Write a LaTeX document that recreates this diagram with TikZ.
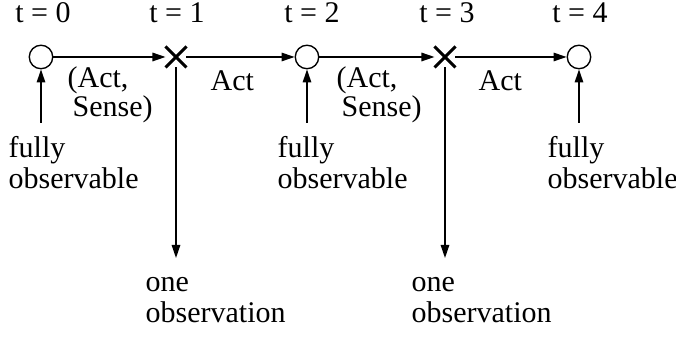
\documentclass[tikz,border=0pt]{standalone}
\usepackage{fontspec}
\setmainfont{Liberation Serif}
\usepackage{tikz}
\usetikzlibrary{arrows.meta,shapes.misc}

\begin{document}
\begin{tikzpicture}[x=0.4pt,y=-0.4pt,>={Triangle[length=5.2pt,width=3.4pt]},line width=0.55pt,
  font=\fontsize{12}{12.6}\selectfont,
  state/.style={circle,draw,inner sep=0pt,minimum size=9.4pt},
  sensed/.style={cross out,draw,line width=1.2pt,inner sep=0pt,minimum size=7.2pt},
  lbl/.style={inner sep=0pt,align=left,anchor=base west}]
\useasboundingbox (0,0) rectangle (676,337);
\node[state] (s0) at (41,57) {};
\node[sensed] (x1) at (176,57) {};
\node[state] (s2) at (307,57) {};
\node[sensed] (x3) at (445,57) {};
\node[state] (s4) at (579,57) {};
\node[inner sep=0pt,anchor=base] (t0) at (43,23) {t = 0};
\node[inner sep=0pt,anchor=base] (t1) at (177,23) {t = 1};
\node[inner sep=0pt,anchor=base] (t2) at (312,23) {t = 2};
\node[inner sep=0pt,anchor=base] (t3) at (447,23) {t = 3};
\node[inner sep=0pt,anchor=base] (t4) at (580,23) {t = 4};
\draw[->] (s0) -- (x1);
\draw[->] (x1) -- (s2);
\draw[->] (s2) -- (x3);
\draw[->] (x3) -- (s4);
\node[lbl,font=\fontsize{12}{10.4}\selectfont] (as0) at (67,117) {(Act,\\\hspace*{2pt}Sense)};
\node[lbl] (a1) at (210,91) {Act};
\node[lbl,font=\fontsize{12}{10.4}\selectfont] (as2) at (336,117) {(Act,\\\hspace*{2pt}Sense)};
\node[lbl] (a3) at (478,91) {Act};
\coordinate (u0) at (41,123);
\coordinate (u2) at (307,123);
\coordinate (u4) at (579,123);
\draw[->] (u0) -- (s0);
\draw[->] (u2) -- (s2);
\draw[->] (u4) -- (s4);
\node[lbl] (f0) at (8,189) {fully\\observable};
\node[lbl] (f2) at (277,189) {fully\\observable};
\node[lbl] (f4) at (547,189) {fully\\observable};
\coordinate (d1) at (176,258);
\coordinate (d3) at (445,258);
\draw[->] (x1) -- (d1);
\draw[->] (x3) -- (d3);
\node[lbl] (o1) at (145,323) {one\\observation};
\node[lbl] (o3) at (411,323) {one\\observation};
\end{tikzpicture}
\end{document}
